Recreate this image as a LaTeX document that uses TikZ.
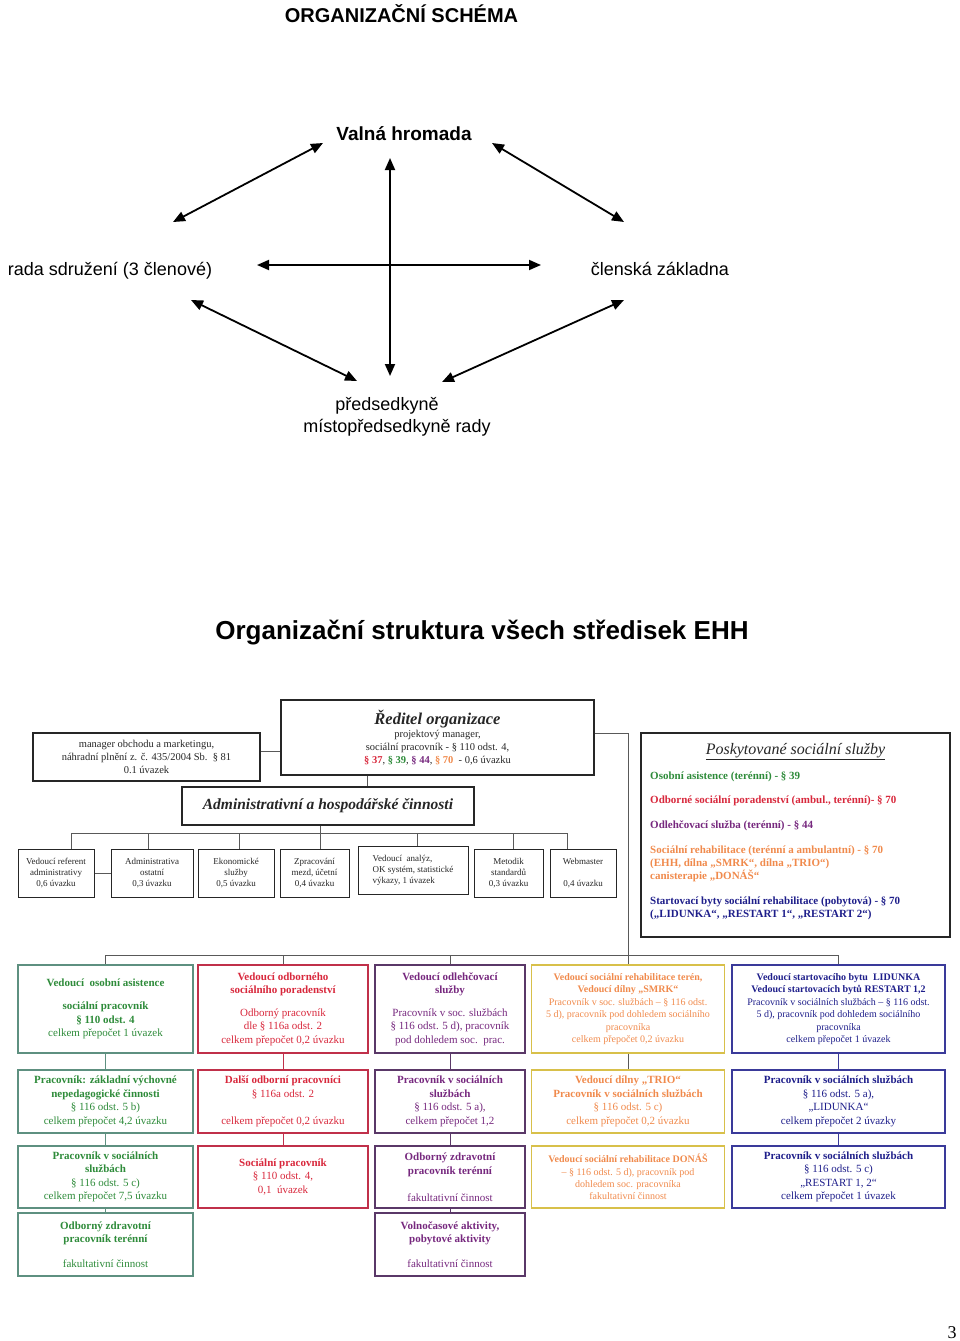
\documentclass[tikz,border=0pt]{standalone}
\usepackage{fontspec}
\setmainfont{Liberation Serif}
\newfontfamily\schemafont{Liberation Sans}
\usepackage{xcolor}
\usepackage{tikz}
\usetikzlibrary{arrows.meta}

\definecolor{ehhgreen}{HTML}{2E8B3A}
\definecolor{ehhgreenline}{HTML}{5E9080}
\definecolor{ehhred}{HTML}{D8283C}
\definecolor{ehhredline}{HTML}{C0304A}
\definecolor{ehhpurple}{HTML}{76287E}
\definecolor{ehhpurpleline}{HTML}{5A3868}
\definecolor{ehhorange}{HTML}{F08A4C}
\definecolor{ehhgold}{HTML}{D8C04A}
\definecolor{ehhblue}{HTML}{1E1E8A}
\definecolor{ehhblueline}{HTML}{3A3A9A}

\begin{document}
\begin{tikzpicture}[x=1pt, y=-1pt,
    twoway/.style={line width=1.8pt, {Triangle[length=12pt,width=10pt]}-{Triangle[length=12pt,width=10pt]}},
    schema/.style={font=\schemafont\fontsize{18}{22}\selectfont, inner sep=0pt, anchor=base},
    link/.style={line width=1pt, draw=black!65},
    frame/.style={draw=black!85, line width=1.2pt, align=center, inner sep=1pt, font=\fontsize{10.5}{13}\selectfont, text=black!85},
    staff/.style={frame, line width=1pt, minimum height=48pt, font=\fontsize{9}{11}\selectfont},
    unit/.style={draw, line width=1.1pt, align=center, inner sep=1pt, font=\fontsize{11}{13.5}\selectfont},
    tight/.style={font=\fontsize{10}{12.4}\selectfont},
    colA/.style={unit, draw=ehhgreenline, text=ehhgreen, minimum width=175pt},
    colB/.style={unit, draw=ehhredline, text=ehhred, minimum width=170pt},
    colC/.style={unit, draw=ehhpurpleline, text=ehhpurple, minimum width=150pt},
    colD/.style={unit, draw=ehhgold, text=ehhorange, minimum width=193pt},
    colE/.style={unit, draw=ehhblueline, text=ehhblue, minimum width=213pt},
    service/.style={font=\bfseries\fontsize{11}{13}\selectfont, inner sep=0pt, anchor=base west, align=left}]
    \useasboundingbox (0,0) rectangle (960,1341);

    % Organizacni schema
    \node[schema, font=\schemafont\bfseries\fontsize{20}{24}\selectfont] (schema) at (401.5,22) {ORGANIZAČNÍ SCHÉMA};
    \node[schema, font=\schemafont\bfseries\fontsize{19}{22}\selectfont] (vh) at (404,140) {Valná hromada};
    \node[schema] (rada) at (110,275) {rada sdružení (3 členové)};
    \node[schema] (clen) at (660,275) {členská základna};
    \node[schema] (pred) at (387,410) {předsedkyně};
    \node[schema] (misto) at (397,432) {místopředsedkyně rady};

    % Arrows between the bodies
    \draw[twoway] ([shift={(-81,3)}]vh.base) -- ([shift={(63,-53)}]rada.base);
    \draw[twoway] ([shift={(88,3)}]vh.base) -- ([shift={(-36,-53)}]clen.base);
    \draw[twoway] ([shift={(-14,18)}]vh.base) -- ([shift={(3,-34)}]pred.base);
    \draw[twoway] ([shift={(147,-10)}]rada.base) -- ([shift={(-119,-10)}]clen.base);
    \draw[twoway] ([shift={(81,25)}]rada.base) -- ([shift={(-30,-29)}]pred.base);
    \draw[twoway] ([shift={(-36,25)}]clen.base) -- ([shift={(55,-28)}]pred.base);

    % Organizacni struktura
    \node[schema, font=\schemafont\bfseries\fontsize{26}{30}\selectfont] (struktura) at (482,639) {Organizační struktura všech středisek EHH};

    % Management
    \node[frame, minimum width=313pt, minimum height=75pt] (reditel) at (437.5,737.5)
        {{\fontsize{16.5}{17}\selectfont\bfseries\itshape Ředitel organizace}\\
         projektový manager,\\
         sociální pracovník - § 110 odst. 4,\\
         {\bfseries\color{ehhred}§ 37}, {\bfseries\color{ehhgreen}§ 39}, {\bfseries\color{ehhpurple}§ 44}, {\bfseries\color{ehhorange}§ 70}\ \ - 0,6 úvazku};
    \node[frame, minimum width=227pt, minimum height=48pt] (manager) at (146.5,757)
        {manager obchodu a marketingu,\\ náhradní plnění z. č. 435/2004 Sb.\ \ § 81\\ 0.1 úvazek};
    \node[frame, minimum width=292pt, minimum height=38pt, font=\fontsize{15.5}{17}\selectfont\bfseries\itshape] (adm) at (328,806)
        {Administrativní a hospodářské činnosti};

    % Administrative staff
    \node[staff, minimum width=76pt] (sb1) at (56,873) {Vedoucí referent\\ administrativy\\ 0,6 úvazku};
    \node[staff, minimum width=82pt] (sb2) at (152,873) {Administrativa\\ ostatní\\ 0,3 úvazku};
    \node[staff, minimum width=76pt] (sb3) at (236,873) {Ekonomické\\ služby\\ 0,5 úvazku};
    \node[staff, minimum width=69pt] (sb4) at (314.5,873) {Zpracování\\ mezd, účetní\\ 0,4 úvazku};
    \node[staff, minimum width=110pt, align=left] (sb5) at (413,870) {Vedoucí\ \ analýz,\\ OK systém, statistické\\ výkazy, 1 úvazek};
    \node[staff, minimum width=69pt] (sb6) at (508.5,873) {Metodik\\ standardů\\ 0,3 úvazku};
    \node[staff, minimum width=66pt] (sb7) at (583,873) {Webmaster\\[11pt] 0,4 úvazku};

    % Lines in the administration
    \coordinate (sbus) at (0,833);
    \draw[link] ([yshift=6pt]manager.east) -- ([yshift=6pt]manager.east -| reditel.west);
    \draw[link] ([xshift=-70.5pt]reditel.south) -- ([xshift=-70.5pt]reditel.south |- adm.north);
    \draw[link] ([xshift=-8pt]adm.south) -- ([xshift=-8pt]adm.south |- sbus);
    \draw[link] ([xshift=15pt]sb1.north |- sbus) -- ([xshift=-16pt]sb7.north |- sbus);
    \draw[link] ([xshift=15pt]sb1.north |- sbus) -- ([xshift=15pt]sb1.north);
    \draw[link] ([xshift=-4pt]sb2.north |- sbus) -- ([xshift=-4pt]sb2.north);
    \draw[link] ([xshift=3pt]sb3.north |- sbus) -- ([xshift=3pt]sb3.north);
    \draw[link] ([xshift=5.5pt]sb4.north |- sbus) -- ([xshift=5.5pt]sb4.north);
    \draw[link] ([xshift=4pt]sb5.north |- sbus) -- ([xshift=4pt]sb5.north);
    \draw[link] ([xshift=4.5pt]sb6.north |- sbus) -- ([xshift=4.5pt]sb6.north);
    \draw[link] ([xshift=-16pt]sb7.north |- sbus) -- ([xshift=-16pt]sb7.north);
    \draw[link] (sb1.east) -- (sb2.west);

    % Poskytovane socialni sluzby
    \node[frame, minimum width=309pt, minimum height=204pt] (posk) at (795.5,835) {};
    \node[inner sep=0pt, anchor=base, font=\fontsize{16}{18}\selectfont\itshape, text=black!85] (posktitle) at (795.5,754)
        {\underline{Poskytované sociální služby}};
    \node[service, text=ehhgreen] (osa) at (650,779) {Osobní asistence (terénní) - § 39};
    \node[service, text=ehhred] (osp) at (650,803) {Odborné sociální poradenství (ambul., terénní)- § 70};
    \node[service, text=ehhpurple] (odl) at (650,828) {Odlehčovací služba (terénní) - § 44};
    % base of a multi-line node is its last line
    \node[service, text=ehhorange] (reh) at (650,879)
        {Sociální rehabilitace (terénní a ambulantní) - § 70\\ (EHH, dílna „SMRK“, dílna „TRIO“)\\ canisterapie „DONÁŠ“};
    \node[service, text=ehhblue] (byty) at (650,917)
        {Startovací byty sociální rehabilitace (pobytová) - § 70\\ („LIDUNKA“, „RESTART 1“, „RESTART 2“)};

    % Row 1 - heads of the services
    \node[colA, minimum height=88pt] (c1r1) at (105.5,1009)
        {{\bfseries Vedoucí\ \ osobní asistence}\\[10pt] {\bfseries sociální pracovník}\\ {\bfseries § 110 odst. 4}\\ celkem přepočet 1 úvazek};
    \node[colB, minimum height=88pt] (c2r1) at (283,1009)
        {{\bfseries Vedoucí odborného}\\ {\bfseries sociálního poradenství}\\[9pt] Odborný pracovník\\ dle § 116a odst. 2\\ celkem přepočet 0,2 úvazku};
    \node[colC, minimum height=88pt] (c3r1) at (450,1009)
        {{\bfseries Vedoucí odlehčovací}\\ {\bfseries služby}\\[9pt] Pracovník v soc. službách\\ § 116 odst. 5 d), pracovník\\ pod dohledem soc.\ \ prac.};
    \node[colD, tight, minimum height=88pt] (c4r1) at (628,1009)
        {{\bfseries Vedoucí sociální rehabilitace terén,}\\ {\bfseries Vedoucí dílny „SMRK“}\\ Pracovník v soc. službách – § 116 odst.\\ 5 d), pracovník pod dohledem sociálního\\ pracovníka\\ celkem přepočet 0,2 úvazku};
    \node[colE, tight, minimum height=88pt] (c5r1) at (838.5,1009)
        {{\bfseries Vedoucí startovacího bytu\ \ LIDUNKA}\\ {\bfseries Vedoucí startovacích bytů RESTART 1,2}\\ Pracovník v sociálních službách – § 116 odst.\\ 5 d), pracovník pod dohledem sociálního\\ pracovníka\\ celkem přepočet 1 úvazek};

    % Row 2
    \node[colA, minimum height=63pt] (c1r2) at (105.5,1101.5)
        {{\bfseries Pracovník: základní výchovné}\\ {\bfseries nepedagogické činnosti}\\ § 116 odst. 5 b)\\ celkem přepočet 4,2 úvazku};
    \node[colB, minimum height=63pt] (c2r2) at (283,1101.5)
        {{\bfseries Další odborní pracovníci}\\ § 116a odst. 2\\[13.5pt] celkem přepočet 0,2 úvazku};
    \node[colC, minimum height=63pt] (c3r2) at (450,1101.5)
        {{\bfseries Pracovník v sociálních}\\ {\bfseries službách}\\ § 116 odst. 5 a),\\ celkem přepočet 1,2};
    \node[colD, minimum height=63pt] (c4r2) at (628,1101.5)
        {{\bfseries Vedoucí dílny „TRIO“}\\ {\bfseries Pracovník v sociálních službách}\\ § 116 odst. 5 c)\\ celkem přepočet 0,2 úvazku};
    \node[colE, minimum height=63pt] (c5r2) at (838.5,1101.5)
        {{\bfseries Pracovník v sociálních službách}\\ § 116 odst. 5 a),\\ „LIDUNKA“\\ celkem přepočet 2 úvazky};

    % Row 3
    \node[colA, minimum height=62pt] (c1r3) at (105.5,1177)
        {{\bfseries Pracovník v sociálních}\\ {\bfseries službách}\\ § 116 odst. 5 c)\\ celkem přepočet 7,5 úvazku};
    \node[colB, minimum height=62pt] (c2r3) at (283,1177)
        {{\bfseries Sociální pracovník}\\ § 110 odst. 4,\\ 0,1\ \ úvazek};
    \node[colC, minimum height=62pt] (c3r3) at (450,1177)
        {{\bfseries Odborný zdravotní}\\ {\bfseries pracovník terénní}\\[13.5pt] fakultativní činnost};
    \node[colD, tight, minimum height=62pt] (c4r3) at (628,1177)
        {{\bfseries Vedoucí sociální rehabilitace DONÁŠ}\\ – § 116 odst. 5 d), pracovník pod\\ dohledem soc. pracovníka\\ fakultativní činnost};
    \node[colE, minimum height=62pt] (c5r3) at (838.5,1177)
        {{\bfseries Pracovník v sociálních službách}\\ § 116 odst. 5 c)\\ „RESTART 1, 2“\\ celkem přepočet 1 úvazek};

    % Row 4
    \node[colA, minimum height=63pt] (c1r4) at (105.5,1244.5)
        {{\bfseries Odborný zdravotní}\\ {\bfseries pracovník terénní}\\[11pt] fakultativní činnost};
    \node[colC, minimum height=63pt] (c3r4) at (450,1244.5)
        {{\bfseries Volnočasové aktivity,}\\ {\bfseries pobytové aktivity}\\[11pt] fakultativní činnost};

    % Lines to the services
    \coordinate (bus) at (0,955);
    \draw[link] ([yshift=4.5pt]reditel.east) -| (c4r1.north);
    \draw[link] (c1r1.north |- bus) -- (c5r1.north |- bus);
    \draw[link] (c1r1.north |- bus) -- (c1r1.north);
    \draw[link] (c2r1.north |- bus) -- (c2r1.north);
    \draw[link] (c3r1.north |- bus) -- (c3r1.north);
    \draw[link] (c5r1.north |- bus) -- (c5r1.north);

    % Lines inside the columns
    \draw[link, draw=ehhgreenline] (c1r1) -- (c1r2);
    \draw[link, draw=ehhgreenline] (c1r2) -- (c1r3);
    \draw[link, draw=ehhgreenline] (c1r3) -- (c1r4);
    \draw[link, draw=ehhredline] (c2r1) -- (c2r2);
    \draw[link, draw=ehhredline] (c2r2) -- (c2r3);
    \draw[link, draw=ehhpurpleline] (c3r1) -- (c3r2);
    \draw[link, draw=ehhpurpleline] (c3r2) -- (c3r3);
    \draw[link, draw=ehhpurpleline] (c3r3) -- (c3r4);
    \draw[link] (c4r1) -- (c4r2);
    \draw[link, draw=ehhblueline] (c5r1) -- (c5r2);
    \draw[link, draw=ehhblueline] (c5r2) -- (c5r3);

    % Page number
    \node[inner sep=0pt, anchor=base, font=\fontsize{18}{20}\selectfont] (page) at (952,1338) {3};
\end{tikzpicture}
\end{document}
